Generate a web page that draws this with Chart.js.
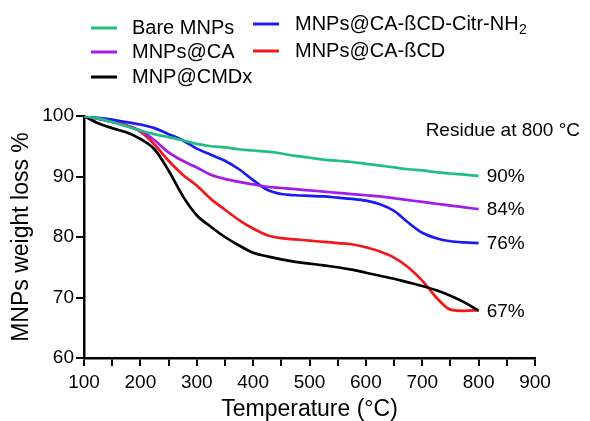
<!DOCTYPE html>
<html><head><meta charset="utf-8">
<script src="https://cdn.jsdelivr.net/npm/chart.js@4"></script>
<style>html,body{margin:0;padding:0;background:#fff;}canvas{display:block;}</style>
</head><body>
<canvas id="c" width="590" height="421"></canvas>
<script>
// ---- data ----
const temps = [100,125,150,175,200,225,250,275,300,325,350,375,400,425,450,475,500,525,550,575,600,625,650,675,700,725,750,775,800];
const bareMNPs = [100,99.6,99.0,98.3,97.6,97.0,96.5,96.0,95.4,95.0,94.8,94.5,94.3,94.1,93.8,93.4,93.1,92.8,92.6,92.4,92.1,91.8,91.5,91.2,91.0,90.7,90.5,90.3,90.1];
const mnpsCA = [100,99.5,99.0,98.4,97.6,96.0,94.0,92.6,91.5,90.3,89.6,89.1,88.7,88.3,88.1,87.9,87.7,87.5,87.3,87.1,86.9,86.7,86.4,86.1,85.8,85.5,85.2,84.9,84.6];
const mnpCMDx = [100,98.8,98.0,97.3,96.2,94.5,91.0,86.8,83.6,81.7,80.0,78.6,77.4,76.8,76.3,75.9,75.6,75.3,75.0,74.6,74.1,73.6,73.1,72.5,71.9,71.2,70.3,69.2,67.8];
const mnpsCitrNH2 = [100,99.7,99.4,99.0,98.6,98.0,97.0,96.0,94.6,93.6,92.6,91.2,89.4,87.8,87.1,86.9,86.8,86.7,86.5,86.3,86.0,85.4,84.3,82.4,80.7,79.8,79.3,79.1,79.0];
const mnpsBCD = [100,99.6,99.2,98.5,97.4,95.3,92.6,90.3,88.5,86.3,84.5,82.8,81.4,80.3,79.8,79.6,79.4,79.2,79.0,78.8,78.3,77.6,76.6,75.0,72.8,70.0,68.0,67.8,67.9];
const seriesLabels = ['Bare MNPs','MNPs@CA','MNP@CMDx','MNPs@CA-ßCD-Citr-NH₂','MNPs@CA-ßCD'];
const residueTitle = 'Residue at 800 °C';
const residueLabels = ['90%','84%','67%','76%',''];  // per series, in series order
const yTicks = [60,70,80,90,100];
const xTickLabels = [100,200,300,400,500,600,700,800,900];

const FONT = '"Liberation Sans", Arial, Helvetica, sans-serif';
Chart.defaults.font.family = FONT;
Chart.defaults.color = '#000';

const colors = ['#1fbf7f','#a21ce8','#000000','#1a1af0','#f01818'];
const seriesValues = [bareMNPs, mnpsCA, mnpCMDx, mnpsCitrNH2, mnpsBCD];

const datasets = seriesValues.map((vals, i) => ({
  label: seriesLabels[i],
  data: temps.map((t, k) => ({x: t, y: vals[k]})),
  borderColor: colors[i],
  backgroundColor: colors[i],
  borderWidth: 2.7,
  pointRadius: 0,
  fill: false,
  cubicInterpolationMode: 'monotone'
}));

// legend layout (style only)
const legendPos = [
  {lx: 91, tx: 132, y: 28},
  {lx: 91, tx: 132, y: 52},
  {lx: 91, tx: 132, y: 77},
  {lx: 253, tx: 295, y: 24},
  {lx: 253, tx: 295, y: 51}
];

const annot = {
  id: 'annot',
  afterDraw(chart) {
    const ctx = chart.ctx;
    const xs = chart.scales.x, ys = chart.scales.y;
    ctx.save();
    chart.data.datasets.forEach((ds, i) => {
      const p = legendPos[i];
      ctx.strokeStyle = ds.borderColor;
      ctx.lineWidth = 3;
      ctx.beginPath();
      ctx.moveTo(p.lx, p.y); ctx.lineTo(p.lx + 26, p.y);
      ctx.stroke();
      ctx.fillStyle = '#000';
      ctx.textBaseline = 'middle';
      ctx.textAlign = 'left';
      ctx.font = '20px ' + FONT;
      const label = ds.label;
      if (label.endsWith('₂')) {
        const main = label.slice(0, -1);
        ctx.fillText(main, p.tx, p.y);
        const w = ctx.measureText(main).width;
        ctx.font = '14px ' + FONT;
        ctx.fillText('2', p.tx + w + 0.5, p.y + 6);
      } else {
        ctx.fillText(label, p.tx, p.y);
      }
    });
    ctx.fillStyle = '#000';
    ctx.font = '19px ' + FONT;
    ctx.textAlign = 'left';
    ctx.textBaseline = 'middle';
    ctx.fillText(residueTitle, xs.getPixelForValue(800) - 53, ys.getPixelForValue(97.6));
    const lastX = temps[temps.length - 1];
    chart.data.datasets.forEach((ds, i) => {
      const txt = residueLabels[i];
      if (!txt) return;
      const v = seriesValues[i][seriesValues[i].length - 1];
      ctx.font = '19px ' + FONT;
      ctx.fillText(txt, xs.getPixelForValue(lastX) + 8, ys.getPixelForValue(v) + 1);
    });
    ctx.restore();
  }
};

new Chart(document.getElementById('c'), {
  type: 'line',
  data: { datasets },
  options: {
    responsive: false,
    devicePixelRatio: 1,
    animation: false,
    layout: { padding: { left: 0, right: 55, top: 116, bottom: 0 } },
    plugins: { legend: { display: false }, tooltip: { enabled: false } },
    scales: {
      x: {
        type: 'linear',
        min: 100, max: 900,
        afterFit(s) { s.height = 63; },
        afterBuildTicks(s) {
          const t = [];
          for (let v = 100; v <= 900; v += 50) t.push({value: v});
          s.ticks = t;
        },
        ticks: {
          autoSkip: false, maxRotation: 0, padding: 5,
          font: { size: 19 }, color: '#000',
          callback: (v) => xTickLabels.includes(v) ? String(v) : ''
        },
        grid: { display: true, drawOnChartArea: false, drawTicks: true, tickLength: 8, color: '#000', lineWidth: 2 },
        border: { display: true, color: '#000', width: 2.5 },
        title: { display: true, text: 'Temperature (°C)', font: { size: 23 }, color: '#000', padding: { top: 0, bottom: -2 } }
      },
      y: {
        min: 60, max: 100,
        afterFit(s) { s.width = 84; },
        afterBuildTicks(s) { s.ticks = yTicks.map(v => ({value: v})); },
        ticks: { padding: 2, font: { size: 19 }, color: '#000' },
        grid: { display: true, drawOnChartArea: false, drawTicks: true, tickLength: 8, color: '#000', lineWidth: 2 },
        border: { display: true, color: '#000', width: 2.5 },
        title: { display: true, text: 'MNPs weight loss %', font: { size: 23 }, color: '#000', padding: { top: 8, bottom: 0 } }
      }
    }
  },
  plugins: [annot]
});
</script>
</body></html>
